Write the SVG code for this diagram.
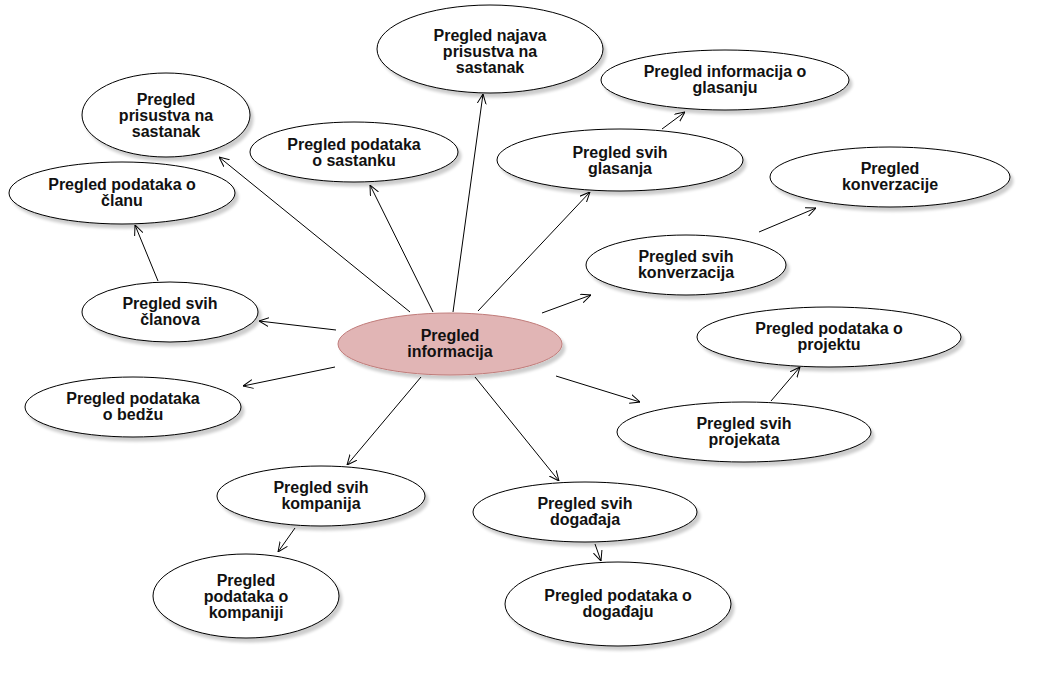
<svg xmlns="http://www.w3.org/2000/svg" width="1048" height="685" viewBox="0 0 1048 685">
<defs>
<filter id="sh" x="-10%" y="-10%" width="130%" height="140%">
<feGaussianBlur in="SourceAlpha" stdDeviation="1.5"/>
<feOffset dx="3" dy="4" result="b"/>
<feComponentTransfer><feFuncA type="linear" slope="0.2"/></feComponentTransfer>
<feMerge><feMergeNode/><feMergeNode in="SourceGraphic"/></feMerge>
</filter>
<marker id="arr" viewBox="0 0 10 10" refX="10" refY="5" markerWidth="10" markerHeight="10" markerUnits="userSpaceOnUse" orient="auto">
<path d="M0,0.5 L10,5 L0,9.5" fill="none" stroke="#000" stroke-width="1"/>
</marker>
</defs>
<style>
.n ellipse{fill:#fff;stroke:#000;stroke-width:1;filter:url(#sh)}
.c ellipse{fill:#e1b5b5;stroke:#c07c7a;stroke-width:1;filter:url(#sh)}
text{font-family:"Liberation Sans",Arial,sans-serif;font-weight:bold;font-size:16px;fill:#111;text-anchor:middle}
#edges line{stroke:#000;stroke-width:1;marker-end:url(#arr)}
</style>
<rect width="1048" height="685" fill="#fff"/>
<g id="edges">
<line x1="453" y1="312" x2="483" y2="94"/>
<line x1="433" y1="312" x2="370" y2="185"/>
<line x1="410" y1="312" x2="219" y2="157"/>
<line x1="336" y1="330" x2="259" y2="321"/>
<line x1="158" y1="281" x2="135" y2="225"/>
<line x1="478" y1="311" x2="590" y2="192"/>
<line x1="662" y1="129" x2="685" y2="112"/>
<line x1="542" y1="313" x2="591" y2="295"/>
<line x1="759" y1="232" x2="816" y2="208"/>
<line x1="335" y1="367" x2="243" y2="386"/>
<line x1="556" y1="376" x2="640" y2="402"/>
<line x1="771" y1="401" x2="800" y2="367"/>
<line x1="421" y1="377" x2="347" y2="465"/>
<line x1="295" y1="528" x2="278" y2="552"/>
<line x1="475" y1="377" x2="559" y2="481"/>
<line x1="595" y1="544" x2="601" y2="561"/>
</g>
<g id="center" class="c"><ellipse cx="450" cy="344" rx="112" ry="31"/><text x="450" y="341">Pregled</text><text x="450" y="357">informacija</text></g>
<g id="najava" class="n"><ellipse cx="490" cy="49" rx="113" ry="44"/><text x="490" y="41">Pregled najava</text><text x="490" y="57">prisustva na</text><text x="490" y="73">sastanak</text></g>
<g id="info-glasanje" class="n"><ellipse cx="725" cy="80" rx="124" ry="30"/><text x="725" y="77">Pregled informacija o</text><text x="725" y="93">glasanju</text></g>
<g id="prisustvo" class="n"><ellipse cx="166" cy="115" rx="84" ry="42"/><text x="166" y="105">Pregled</text><text x="166" y="121">prisustva na</text><text x="166" y="137">sastanak</text></g>
<g id="sastanak" class="n"><ellipse cx="354" cy="152" rx="104" ry="30"/><text x="354" y="150">Pregled podataka</text><text x="354" y="166">o sastanku</text></g>
<g id="glasanja" class="n"><ellipse cx="620" cy="160" rx="123" ry="31"/><text x="620" y="158">Pregled svih</text><text x="620" y="174">glasanja</text></g>
<g id="clan" class="n"><ellipse cx="122" cy="193" rx="113" ry="31"/><text x="122" y="190">Pregled podataka o</text><text x="122" y="206">članu</text></g>
<g id="konverzacija" class="n"><ellipse cx="890" cy="177" rx="120" ry="30"/><text x="890" y="174">Pregled</text><text x="890" y="190">konverzacije</text></g>
<g id="konverzacije" class="n"><ellipse cx="686" cy="265" rx="100" ry="30"/><text x="686" y="262">Pregled svih</text><text x="686" y="278">konverzacija</text></g>
<g id="clanovi" class="n"><ellipse cx="170" cy="312" rx="88" ry="30"/><text x="170" y="309">Pregled svih</text><text x="170" y="325">članova</text></g>
<g id="bedz" class="n"><ellipse cx="133" cy="407" rx="108" ry="30"/><text x="133" y="404">Pregled podataka</text><text x="133" y="420">o bedžu</text></g>
<g id="projekat" class="n"><ellipse cx="829" cy="337" rx="132" ry="30"/><text x="829" y="334">Pregled podataka o</text><text x="829" y="350">projektu</text></g>
<g id="projekti" class="n"><ellipse cx="744" cy="432" rx="127" ry="30"/><text x="744" y="429">Pregled svih</text><text x="744" y="445">projekata</text></g>
<g id="kompanije" class="n"><ellipse cx="321" cy="496" rx="104" ry="30"/><text x="321" y="493">Pregled svih</text><text x="321" y="509">kompanija</text></g>
<g id="kompanija" class="n"><ellipse cx="246" cy="596" rx="93" ry="42"/><text x="246" y="586">Pregled</text><text x="246" y="602">podataka o</text><text x="246" y="618">kompaniji</text></g>
<g id="dogadjaji" class="n"><ellipse cx="585" cy="512" rx="112" ry="30"/><text x="585" y="509">Pregled svih</text><text x="585" y="525">događaja</text></g>
<g id="dogadjaj" class="n"><ellipse cx="618" cy="604" rx="113" ry="42"/><text x="618" y="601">Pregled podataka o</text><text x="618" y="617">događaju</text></g>
</svg>
